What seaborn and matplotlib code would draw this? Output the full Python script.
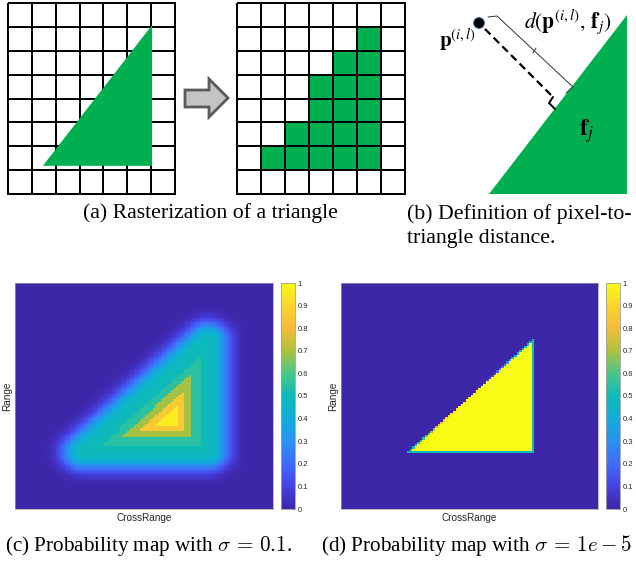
import numpy as np
import matplotlib
matplotlib.use("Agg")
import matplotlib.pyplot as plt
import seaborn as sns
from matplotlib.colors import LinearSegmentedColormap, ListedColormap
from matplotlib.patches import Polygon, Circle

# ---------------- data ----------------
grid_rows = 8
grid_cols = 7
raster_cells = [
    [0, 0, 0, 0, 0, 0, 0],
    [0, 0, 0, 0, 0, 1, 0],
    [0, 0, 0, 0, 1, 1, 0],
    [0, 0, 0, 1, 1, 1, 0],
    [0, 0, 0, 1, 1, 1, 0],
    [0, 0, 1, 1, 1, 1, 0],
    [0, 1, 1, 1, 1, 1, 0],
    [0, 0, 0, 0, 0, 0, 0],
]
tri_cells = [(1.46, 6.82), (6.04, 0.92), (6.04, 6.82)]      # triangle in grid-cell units
tri_map = [(-0.48, 0.50), (0.50, -0.50), (0.50, 0.50)]      # triangle in map coords (x, y down)
map_n = 101
sigma_c = 0.018
band_c = 0.06
sigma_d = 1e-5
cbar_ticks = [0, 0.1, 0.2, 0.3, 0.4, 0.5, 0.6, 0.7, 0.8, 0.9, 1.0]
cbar_labels = ["0", "0.1", "0.2", "0.3", "0.4", "0.5", "0.6", "0.7", "0.8", "0.9", "1"]
parula_pos = [0.0, 0.1, 0.2, 0.3, 0.4, 0.5, 0.6, 0.7, 0.8, 0.9, 1.0]
parula_rgb = [
    (0.2422, 0.1504, 0.6603), (0.2780, 0.2600, 0.8900), (0.2500, 0.4200, 0.9900),
    (0.1600, 0.5700, 0.9400), (0.0600, 0.6800, 0.8500), (0.0500, 0.7300, 0.7300),
    (0.2800, 0.7800, 0.5400), (0.6800, 0.7600, 0.2400), (0.9600, 0.7300, 0.2300),
    (0.9900, 0.8300, 0.1800), (0.9769, 0.9839, 0.0805),
]
caption_a = "(a) Rasterization of a triangle"
caption_b1 = "(b) Definition of pixel-to-"
caption_b2 = "triangle distance."
caption_c = r"(c) Probability map with $\sigma\,=\,0.1$."
caption_d = r"(d) Probability map with $\sigma\,=\,1e-5$"

GREEN = "#00AF50"
W, H = 636, 566
parula = LinearSegmentedColormap.from_list("parula", list(zip(parula_pos, parula_rgb)), N=256)


def signed_dist(tri, n):
    xs = np.linspace(-1, 1, n)
    X, Y = np.meshgrid(xs, xs)
    d = np.full(X.shape, np.inf)
    signs = []
    for k in range(3):
        ax_, ay_ = tri[k]
        bx_, by_ = tri[(k + 1) % 3]
        ex, ey = bx_ - ax_, by_ - ay_
        t = np.clip(((X - ax_) * ex + (Y - ay_) * ey) / (ex * ex + ey * ey), 0, 1)
        px, py = ax_ + t * ex, ay_ + t * ey
        d = np.minimum(d, np.hypot(X - px, Y - py))
        signs.append(ex * (Y - ay_) - ey * (X - ax_))
    s = np.stack(signs)
    inside = np.all(s >= -1e-12, axis=0) | np.all(s <= 1e-12, axis=0)
    return d, inside


def prob_map(tri, n, sigma, band=None):
    d, inside = signed_dist(tri, n)
    if band is not None:
        d = np.where(inside, np.floor(d / band) * band, d)
    z = np.where(inside, 1.0, -1.0) * d ** 2 / sigma
    return 1.0 / (1.0 + np.exp(-z))


def fx(px):
    return px / W


def fy(py):
    return 1 - py / H


sns.set_theme(style="white")
plt.rcParams["font.family"] = ["Liberation Sans", "DejaVu Sans"]

fig = plt.figure(figsize=(6.36, 5.66), dpi=100)
ax0 = fig.add_axes([0, 0, 1, 1])
ax0.set_xlim(0, W)
ax0.set_ylim(H, 0)
ax0.axis("off")

# ---------------- (a) ----------------
def grid_axes(x0, x1, y0, y1):
    return fig.add_axes([fx(x0), fy(y1), fx(x1) - fx(x0), (y1 - y0) / H])

ax_l = grid_axes(8, 175, 3, 194)
sns.heatmap(np.zeros((grid_rows, grid_cols)), ax=ax_l, cmap=ListedColormap(["white"]),
            cbar=False, linewidths=1.4, linecolor="black", xticklabels=False, yticklabels=False)
ax_l.collections[0].set_clip_on(False)
ax_l.add_patch(Polygon(tri_cells, closed=True, fc=GREEN, ec="none", zorder=5, clip_on=False))

ax_r = grid_axes(237, 405, 3, 194)
sns.heatmap(np.array(raster_cells), ax=ax_r, cmap=ListedColormap(["white", GREEN]), vmin=0, vmax=1,
            cbar=False, linewidths=1.4, linecolor="black", xticklabels=False, yticklabels=False)
ax_r.collections[0].set_clip_on(False)

arrow = [(185, 90), (209, 90), (209, 79), (228, 98), (209, 117), (209, 107), (185, 107)]
ax0.add_patch(Polygon(arrow, closed=True, fc="#C4C4C4", ec="#5A5A5A", lw=2.0, joinstyle="miter"))

# ---------------- (b) ----------------
ax0.add_patch(Polygon([(489, 194), (627, 15), (627, 194)], closed=True, fc=GREEN, ec="none"))
ax0.plot([485, 553], [29, 97], color="black", lw=1.6, ls=(0, (3.5, 2)))
ax0.plot([553, 549, 555], [97, 103, 109], color="black", lw=1.4)
ax0.plot([488, 497, 573, 566], [17, 16, 87, 93], color="#333333", lw=0.7)
ax0.plot([536, 533], [48, 53], color="#333333", lw=0.7)
ax0.add_patch(Circle((479, 23), 5.2, fc="black", ec="#1F3A7A", lw=0.8, zorder=6))
ax0.text(457, 40, r"$\mathbf{p}^{(i,l)}$", ha="center", va="center", fontsize=15,
         math_fontfamily="stix", color="black")
ax0.text(568, 22, r"$d(\mathbf{p}^{(i,l)},\,\mathbf{f}_j)$", ha="center", va="center", fontsize=15.5,
         math_fontfamily="stix", color="black")
ax0.text(586, 131, r"$\mathbf{f}_j$", ha="center", va="center", fontsize=17,
         math_fontfamily="stix", color="black")

# ---------------- (c), (d) ----------------
def prob_panel(x0, x1, cx0, cx1, data):
    y0, y1 = 283, 509
    ax = fig.add_axes([fx(x0), fy(y1), (x1 - x0) / W, (y1 - y0) / H])
    cax = fig.add_axes([fx(cx0), fy(y1), (cx1 - cx0) / W, (y1 - y0) / H])
    sns.heatmap(data, ax=ax, cbar_ax=cax, cmap=parula, vmin=0, vmax=1,
                xticklabels=False, yticklabels=False, cbar_kws={"ticks": cbar_ticks})
    ax.set_xlabel("CrossRange", fontsize=7.2, color="#262626", labelpad=3)
    ax.set_ylabel("Range", fontsize=7.2, color="#262626", labelpad=2)
    for sp in ax.spines.values():
        sp.set_visible(True)
        sp.set_color("#A0A0A0")
        sp.set_linewidth(0.5)
    cax.set_yticklabels(cbar_labels)
    cax.tick_params(axis="y", direction="in", length=2, width=0.5, labelsize=5.5,
                    colors="#262626", pad=2)
    cb = ax.collections[0].colorbar
    cb.outline.set_linewidth(0.6)
    cb.outline.set_edgecolor("#A0A0A0")
    return ax

prob_panel(15, 273, 281, 295, prob_map(tri_map, map_n, sigma_c, band_c))
prob_panel(341, 598, 606, 620, prob_map(tri_map, map_n, sigma_d))

# ---------------- captions ----------------
cap = dict(fontsize=15.7, family="Liberation Serif", color="black", va="center",
           math_fontfamily="cm")
fig.text(fx(210), fy(213), caption_a, ha="center", **cap)
fig.text(fx(407), fy(214), caption_b1, ha="left", **cap)
fig.text(fx(407), fy(239), caption_b2, ha="left", **cap)
cap["fontsize"] = 15.2
fig.text(fx(5), fy(546), caption_c, ha="left", **cap)
fig.text(fx(321), fy(546), caption_d, ha="left", **cap)

fig.savefig("out.png", dpi=100)
